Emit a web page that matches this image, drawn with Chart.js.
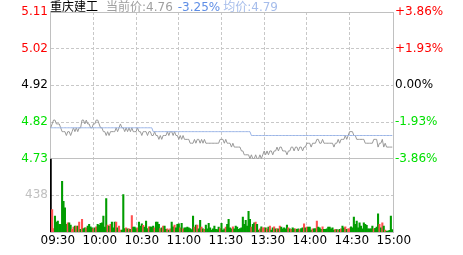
<!DOCTYPE html>
<html>
<head>
<meta charset="utf-8">
<script src="https://cdn.jsdelivr.net/npm/chart.js@4/dist/chart.umd.min.js"></script>
<style>
  html, body { margin: 0; padding: 0; background: #fff; }
</style>
</head>
<body>
<canvas id="chart" width="463" height="255"></canvas>
<script>
// header
var stockName = '重庆建工';
var lastPrice = '4.76', lastPct = '-3.25%', avgPrice = '4.79';

// axis labels
var timeLabels = ['09:30', '10:00', '10:30', '11:00', '11:30', '13:30', '14:00', '14:30', '15:00'];
var priceLabels = ['5.11', '5.02', '4.92', '4.82', '4.73'];
var pctLabels = ['+3.86%', '+1.93%', '0.00%', '-1.93%', '-3.86%'];
var volLabels = ['438'];

// one value per minute, 09:30 .. 11:30 / 13:00 .. 15:00
var prices = [
  4.81, 4.82, 4.83, 4.83, 4.82, 4.82, 4.82, 4.81, 4.80, 4.80,
  4.80, 4.79, 4.80, 4.80, 4.79, 4.80, 4.81, 4.80, 4.81, 4.80,
  4.81, 4.81, 4.83, 4.83, 4.82, 4.83, 4.82, 4.82, 4.81, 4.81,
  4.82, 4.82, 4.83, 4.83, 4.82, 4.81, 4.81, 4.80, 4.80, 4.79,
  4.80, 4.79, 4.80, 4.80, 4.80, 4.80, 4.81, 4.80, 4.81, 4.82,
  4.81, 4.81, 4.80, 4.81, 4.80, 4.81, 4.80, 4.81, 4.80, 4.80,
  4.80, 4.81, 4.80, 4.80, 4.79, 4.80, 4.80, 4.80, 4.79, 4.80,
  4.80, 4.79, 4.79, 4.80, 4.79, 4.79, 4.78, 4.79, 4.78, 4.79,
  4.79, 4.79, 4.80, 4.79, 4.80, 4.80, 4.79, 4.80, 4.79, 4.79,
  4.78, 4.79, 4.78, 4.79, 4.78, 4.78, 4.78, 4.78, 4.77, 4.77,
  4.77, 4.78, 4.77, 4.78, 4.78, 4.77, 4.78, 4.77, 4.78, 4.77,
  4.77, 4.77, 4.77, 4.77, 4.77, 4.77, 4.77, 4.77, 4.77, 4.78,
  4.78, 4.78, 4.77, 4.78, 4.77, 4.77, 4.77, 4.76, 4.77, 4.76,
  4.76, 4.76, 4.76, 4.76, 4.75, 4.75, 4.74, 4.74, 4.74, 4.74,
  4.73, 4.74, 4.73, 4.73, 4.74, 4.73, 4.73, 4.74, 4.73, 4.74,
  4.75, 4.74, 4.75, 4.74, 4.75, 4.75, 4.74, 4.75, 4.75, 4.76,
  4.75, 4.76, 4.76, 4.75, 4.75, 4.75, 4.74, 4.75, 4.75, 4.76,
  4.76, 4.75, 4.76, 4.76, 4.75, 4.76, 4.76, 4.75, 4.76, 4.76,
  4.77, 4.77, 4.77, 4.76, 4.77, 4.77, 4.77, 4.78, 4.78, 4.77,
  4.77, 4.78, 4.77, 4.77, 4.77, 4.77, 4.77, 4.77, 4.77, 4.76,
  4.77, 4.77, 4.78, 4.77, 4.78, 4.78, 4.78, 4.79, 4.78, 4.79,
  4.80, 4.80, 4.80, 4.79, 4.79, 4.78, 4.78, 4.78, 4.78, 4.78,
  4.78, 4.77, 4.77, 4.77, 4.77, 4.77, 4.77, 4.78, 4.78, 4.78,
  4.76, 4.77, 4.77, 4.78, 4.76, 4.77, 4.76, 4.76, 4.76, 4.76,
  4.76
];

var avgPrices = [
  4.81, 4.81, 4.81, 4.81, 4.81, 4.81, 4.81, 4.81, 4.81, 4.81,
  4.81, 4.81, 4.81, 4.81, 4.81, 4.81, 4.81, 4.81, 4.81, 4.81,
  4.81, 4.81, 4.81, 4.81, 4.81, 4.81, 4.81, 4.81, 4.81, 4.81,
  4.81, 4.81, 4.81, 4.81, 4.81, 4.81, 4.81, 4.81, 4.81, 4.81,
  4.81, 4.81, 4.81, 4.81, 4.81, 4.81, 4.81, 4.81, 4.81, 4.81,
  4.81, 4.81, 4.81, 4.81, 4.81, 4.81, 4.81, 4.81, 4.81, 4.81,
  4.81, 4.81, 4.81, 4.81, 4.81, 4.81, 4.81, 4.81, 4.81, 4.81,
  4.81, 4.81, 4.80, 4.80, 4.80, 4.80, 4.80, 4.80, 4.80, 4.80,
  4.80, 4.80, 4.80, 4.80, 4.80, 4.80, 4.80, 4.80, 4.80, 4.80,
  4.80, 4.80, 4.80, 4.80, 4.80, 4.80, 4.80, 4.80, 4.80, 4.80,
  4.80, 4.80, 4.80, 4.80, 4.80, 4.80, 4.80, 4.80, 4.80, 4.80,
  4.80, 4.80, 4.80, 4.80, 4.80, 4.80, 4.80, 4.80, 4.80, 4.80,
  4.80, 4.80, 4.80, 4.80, 4.80, 4.80, 4.80, 4.80, 4.80, 4.80,
  4.80, 4.80, 4.80, 4.80, 4.80, 4.80, 4.80, 4.80, 4.80, 4.80,
  4.80, 4.79, 4.79, 4.79, 4.79, 4.79, 4.79, 4.79, 4.79, 4.79,
  4.79, 4.79, 4.79, 4.79, 4.79, 4.79, 4.79, 4.79, 4.79, 4.79,
  4.79, 4.79, 4.79, 4.79, 4.79, 4.79, 4.79, 4.79, 4.79, 4.79,
  4.79, 4.79, 4.79, 4.79, 4.79, 4.79, 4.79, 4.79, 4.79, 4.79,
  4.79, 4.79, 4.79, 4.79, 4.79, 4.79, 4.79, 4.79, 4.79, 4.79,
  4.79, 4.79, 4.79, 4.79, 4.79, 4.79, 4.79, 4.79, 4.79, 4.79,
  4.79, 4.79, 4.79, 4.79, 4.79, 4.79, 4.79, 4.79, 4.79, 4.79,
  4.79, 4.79, 4.79, 4.79, 4.79, 4.79, 4.79, 4.79, 4.79, 4.79,
  4.79, 4.79, 4.79, 4.79, 4.79, 4.79, 4.79, 4.79, 4.79, 4.79,
  4.79, 4.79, 4.79, 4.79, 4.79, 4.79, 4.79, 4.79, 4.79, 4.79,
  4.79
];

// volume per minute (first bar is the opening auction, runs off the scale)
var volumes = [
  876, 268, 40, 189, 118, 130, 91, 91, 604, 367,
  288, 91, 110, 110, 83, 32, 60, 71, 71, 71,
  118, 32, 150, 40, 51, 51, 71, 91, 63, 51,
  40, 51, 63, 91, 79, 103, 110, 189, 60, 399,
  83, 71, 91, 118, 51, 118, 118, 51, 71, 24,
  24, 446, 40, 51, 39, 39, 32, 197, 59, 59,
  40, 51, 118, 71, 99, 79, 59, 130, 40, 63,
  63, 59, 71, 51, 118, 118, 91, 40, 51, 71,
  71, 32, 39, 24, 39, 118, 63, 83, 51, 91,
  99, 51, 103, 39, 51, 51, 59, 51, 40, 30,
  189, 59, 83, 83, 39, 138, 59, 39, 32, 83,
  39, 103, 51, 24, 39, 71, 32, 30, 60, 40,
  103, 24, 39, 59, 91, 150, 51, 39, 63, 39,
  71, 59, 32, 40, 50, 178, 91, 138, 70, 248,
  150, 59, 91, 110, 118, 91, 24, 39, 63, 51,
  51, 51, 39, 59, 71, 24, 51, 63, 39, 39,
  39, 71, 59, 39, 51, 39, 83, 51, 39, 32,
  51, 39, 39, 32, 39, 30, 40, 51, 99, 51,
  59, 59, 59, 24, 39, 39, 40, 130, 59, 51,
  32, 63, 32, 32, 39, 59, 59, 39, 51, 24,
  32, 30, 24, 32, 39, 71, 51, 63, 32, 39,
  40, 63, 50, 178, 91, 130, 51, 110, 71, 39,
  110, 91, 79, 39, 39, 39, 71, 39, 45, 60,
  217, 91, 51, 110, 71, 24, 12, 12, 20, 189,
  30
];

var minutes = prices.map(function(p, i) { return i; });

var priceTop = parseFloat(priceLabels[0]);
var priceBottom = parseFloat(priceLabels[priceLabels.length - 1]);
var pctTop = parseFloat(pctLabels[0]);
var volTop = parseFloat(volLabels[0]) * 2;

var tickFont = { family: '"DejaVu Sans", sans-serif', size: 12 };
var gridColor = '#c8c8c8';
var edgeColor = '#c0c0c0';

function sideColor(k) {
  if (k < 2) return '#ff0000';
  if (k === 2) return '#000000';
  return '#00e000';
}

function barColor(c) {
  var i = c.dataIndex;
  if (i === 0) return '#000000';
  return prices[i] > prices[i - 1] ? '#ff5050' : '#009c00';
}

function evenTicks(top, bottom, n) {
  return function(s) {
    var t = [];
    for (var k = 0; k < n; k++) t.push({ value: top - k * (top - bottom) / (n - 1) });
    s.ticks = t;
  };
}

function timeTicks(s) {
  s.ticks = timeLabels.map(function(t, k) { return { value: k * 30 }; });
}

function innerDash(c) {
  return (c.type === 'tick' && c.index > 0 && c.index < 4) ? [3, 2] : [];
}

var header = {
  id: 'header',
  afterDraw: function(chart) {
    var ctx = chart.ctx;
    var x = chart.chartArea.left;
    var parts = [
      [stockName, '#000000', 8],
      ['当前价:' + lastPrice, '#a0a0a0', 5],
      [lastPct, '#5f8ee6', 3],
      ['均价:' + avgPrice, '#a6bdeb', 0]
    ];
    ctx.save();
    ctx.font = '12px "DejaVu Sans", "Noto Sans CJK SC", sans-serif';
    ctx.textBaseline = 'alphabetic';
    parts.forEach(function(p) {
      ctx.fillStyle = p[1];
      ctx.fillText(p[0], x, 11);
      x += ctx.measureText(p[0]).width + p[2];
    });
    ctx.restore();
  }
};

new Chart(document.getElementById('chart'), {
  type: 'bar',
  data: {
    labels: minutes,
    datasets: [
      {
        type: 'bar',
        data: volumes,
        xAxisID: 'x',
        yAxisID: 'yv',
        backgroundColor: barColor,
        barPercentage: 1,
        categoryPercentage: 1
      },
      {
        type: 'line',
        data: avgPrices,
        xAxisID: 'x',
        yAxisID: 'y',
        borderColor: '#9ab4e6',
        borderWidth: 1,
        pointRadius: 0,
        tension: 0
      },
      {
        type: 'line',
        data: prices,
        xAxisID: 'x',
        yAxisID: 'y',
        borderColor: '#999999',
        borderWidth: 1,
        pointRadius: 0,
        tension: 0
      }
    ]
  },
  options: {
    responsive: false,
    animation: false,
    devicePixelRatio: 1,
    layout: { padding: { top: 12, left: 0, right: 0, bottom: 0 } },
    plugins: { legend: { display: false }, tooltip: { enabled: false } },
    scales: {
      x: {
        type: 'linear',
        position: 'bottom',
        min: -0.5,
        max: 240.5,
        offset: false,
        afterBuildTicks: timeTicks,
        afterFit: function(s) { s.height = 0; },
        ticks: { display: false },
        grid: {
          offset: false,
          drawTicks: false,
          color: function(c) { return (c.index === 0 || c.index === 8) ? 'rgba(0,0,0,0)' : gridColor; }
        },
        border: { color: edgeColor, dash: function(c) { return c.type === 'tick' ? [3, 2] : []; } }
      },
      xl: {
        type: 'linear',
        position: 'bottom',
        min: -5.57,
        max: 239.4,
        offset: false,
        afterBuildTicks: timeTicks,
        afterFit: function(s) { s.height = 23; },
        ticks: {
          callback: function(v, k) { return timeLabels[k]; },
          autoSkip: false,
          maxRotation: 0,
          color: '#000000',
          font: tickFont,
          padding: 2
        },
        grid: { display: false, drawTicks: false, offset: false },
        border: { display: false }
      },
      yv: {
        type: 'linear',
        position: 'left',
        stack: 'left',
        stackWeight: 1,
        min: 0,
        max: volTop,
        afterBuildTicks: function(s) { s.ticks = volLabels.map(function(l) { return { value: parseFloat(l) }; }); },
        afterFit: function(s) { s.width = 50; },
        ticks: {
          callback: function(v, k) { return volLabels[k]; },
          color: '#c0c0c0',
          font: tickFont,
          padding: 2
        },
        grid: { color: gridColor, drawTicks: false },
        border: { color: edgeColor, dash: function(c) { return c.type === 'tick' ? [3, 2] : []; } }
      },
      y: {
        type: 'linear',
        position: 'left',
        stack: 'left',
        stackWeight: 2,
        min: priceBottom,
        max: priceTop,
        afterBuildTicks: evenTicks(priceTop, priceBottom, priceLabels.length),
        afterFit: function(s) { s.width = 50; },
        ticks: {
          callback: function(v, k) { return priceLabels[k]; },
          color: function(c) { return sideColor(c.index); },
          font: tickFont,
          padding: 2
        },
        grid: { color: function(c) { return innerDash(c).length ? gridColor : edgeColor; }, drawTicks: false },
        border: { color: edgeColor, dash: innerDash }
      },
      yr: {
        type: 'linear',
        position: 'right',
        stack: 'right',
        stackWeight: 2,
        min: -pctTop,
        max: pctTop,
        afterBuildTicks: evenTicks(pctTop, -pctTop, pctLabels.length),
        afterFit: function(s) { s.width = 70; },
        ticks: {
          callback: function(v, k) { return pctLabels[k]; },
          color: function(c) { return sideColor(c.index); },
          font: tickFont,
          padding: 2
        },
        grid: { drawOnChartArea: false, drawTicks: false },
        border: { color: edgeColor }
      },
      yvr: {
        type: 'linear',
        position: 'right',
        stack: 'right',
        stackWeight: 1,
        min: 0,
        max: volTop,
        afterFit: function(s) { s.width = 70; },
        ticks: { display: false },
        grid: { drawOnChartArea: false, drawTicks: false },
        border: { color: edgeColor }
      }
    }
  },
  plugins: [header]
});
</script>
</body>
</html>
